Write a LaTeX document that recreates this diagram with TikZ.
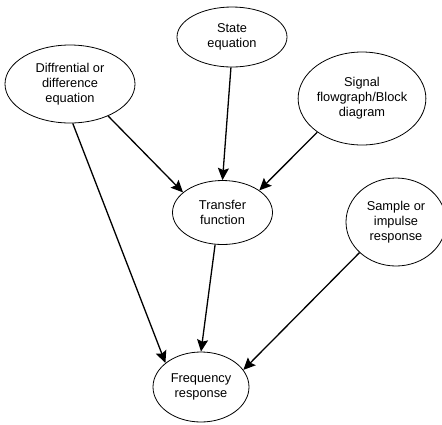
\documentclass[tikz,border=0pt]{standalone}
\usepackage{fontspec}
\setmainfont{Liberation Sans}
\usetikzlibrary{shapes.geometric, arrows.meta}
\tikzset{->,  % every edge gets a head
>={Stealth[length=12pt,width=11pt,inset=2pt]}, % big filled heads
bubble/.style={ellipse, draw, line width=0.8pt, inner sep=0pt, align=center,
  font=\fontsize{12.8}{15}\selectfont}, % the ellipses
link/.style={line width=1.3pt}, % the connectors
}

\begin{document}
\begin{tikzpicture}[x=1pt, y=-1pt]
  \useasboundingbox (0,0) rectangle (442,424);
  \node[bubble, minimum width=130pt, minimum height=78pt] (de) at (70,84) {Diffrential or\\difference\\equation};
  \node[bubble, minimum width=110pt, minimum height=60pt] (se) at (232,37) {State\\equation};
  \node[bubble, minimum width=126pt, minimum height=93pt] (sf) at (362,98.5) {Signal\\flowgraph/Block\\diagram};
  \node[bubble, minimum width=100pt, minimum height=64pt] (tf) at (222.5,212.5) {Transfer\\function};
  \node[bubble, minimum width=100pt, minimum height=88pt] (ir) at (396,222) {Sample or\\impulse\\response};
  \node[bubble, minimum width=96pt, minimum height=70pt] (fr) at (201,387) {Frequency\\response};

  \path[link] (de.-40) edge (tf.153)
        (se.-92) edge (tf.90)
        (sf.-143) edge (tf.31)
        (de.-86) edge (fr.146)
        (tf.-103) edge (fr.90)
        (ir.-140) edge (fr.22);

\end{tikzpicture}
\end{document}
